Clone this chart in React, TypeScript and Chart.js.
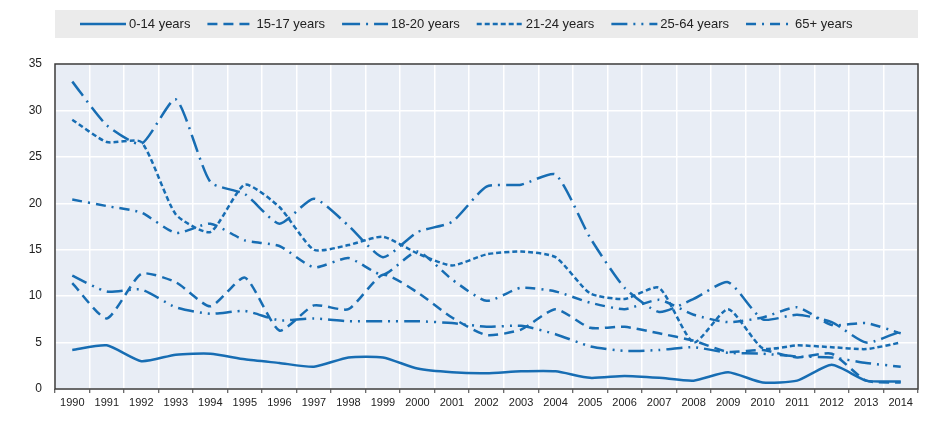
import React, { useEffect, useRef } from "react";
import { Chart, registerables } from "chart.js";

Chart.register(...registerables);

const years = [
  "1990", "1991", "1992", "1993", "1994", "1995", "1996", "1997", "1998", "1999",
  "2000", "2001", "2002", "2003", "2004", "2005", "2006", "2007", "2008", "2009",
  "2010", "2011", "2012", "2013", "2014",
];

const seriesLabels = ["0-14 years", "15-17 years", "18-20 years", "21-24 years", "25-64 years", "65+ years"];

const age0to14 = [4.2, 4.7, 3.0, 3.7, 3.8, 3.2, 2.8, 2.4, 3.4, 3.4, 2.2, 1.8, 1.7, 1.9, 1.9, 1.2, 1.4, 1.2, 0.9, 1.8, 0.7, 0.9, 2.6, 0.9, 0.8];
const age15to17 = [11.4, 7.6, 12.4, 11.5, 8.9, 12.0, 6.3, 9.0, 8.6, 12.3, 10.4, 7.7, 5.8, 6.4, 8.6, 6.6, 6.7, 6.0, 5.2, 4.0, 4.2, 3.4, 3.8, 0.9, 0.7];
const age18to20 = [33.1, 28.4, 26.4, 31.2, 22.3, 21.0, 17.8, 20.5, 17.6, 14.2, 16.9, 18.0, 21.8, 22.0, 23.1, 16.3, 10.9, 8.3, 9.7, 11.5, 7.5, 8.0, 7.2, 5.0, 6.2];
const age21to24 = [29.0, 26.6, 26.6, 18.8, 16.9, 22.0, 19.6, 15.0, 15.5, 16.4, 14.6, 13.3, 14.5, 14.8, 14.2, 10.3, 9.7, 10.9, 5.0, 8.6, 4.4, 4.7, 4.5, 4.3, 5.0];
const age25to64 = [12.2, 10.5, 10.7, 8.8, 8.1, 8.4, 7.4, 7.6, 7.3, 7.3, 7.3, 7.1, 6.7, 6.8, 5.9, 4.6, 4.1, 4.2, 4.5, 3.9, 3.8, 3.5, 3.4, 2.8, 2.4];
const age65plus = [20.4, 19.7, 19.0, 16.8, 17.8, 16.0, 15.4, 13.1, 14.1, 12.3, 14.8, 11.8, 9.5, 10.9, 10.5, 9.3, 8.6, 9.6, 8.0, 7.2, 7.7, 8.8, 6.9, 7.1, 6.0];

const yTicks = [0, 5, 10, 15, 20, 25, 30, 35];

const seriesValues = [age0to14, age15to17, age18to20, age21to24, age25to64, age65plus];
const dashStyles: number[][] = [
  [],
  [10, 6],
  [18, 6, 2, 6],
  [5, 3],
  [16, 6, 2, 6, 2, 6],
  [10, 6, 2, 6],
];

const LINE_COLOR = "#176db3";
const FONT = '"Liberation Sans", Arial, sans-serif';

const decorPlugin = {
  id: "decor",
  beforeDraw(chart: any) {
    const { ctx, chartArea } = chart;
    const { left, top, right, bottom } = chartArea;
    ctx.save();
    ctx.fillStyle = "#e8edf5";
    ctx.fillRect(left, top, right - left, bottom - top);
    ctx.fillStyle = "#ebebeb";
    ctx.fillRect(left, 10, right - left, 28);
    ctx.restore();
  },
  afterDraw(chart: any) {
    const { ctx, chartArea } = chart;
    const { left, top, right, bottom } = chartArea;
    ctx.save();
    // frame
    ctx.strokeStyle = "#3a3a3a";
    ctx.lineWidth = 1.5;
    ctx.setLineDash([]);
    ctx.beginPath();
    ctx.moveTo(left, top);
    ctx.lineTo(right, top);
    ctx.lineTo(right, bottom);
    ctx.lineTo(left, bottom);
    ctx.closePath();
    ctx.stroke();
    // legend
    ctx.font = `13px ${FONT}`;
    ctx.textBaseline = "middle";
    let x = 80;
    const y = 24;
    chart.data.datasets.forEach((ds: any) => {
      ctx.strokeStyle = ds.borderColor;
      ctx.lineWidth = 2.5;
      ctx.setLineDash(ds.borderDash || []);
      ctx.beginPath();
      ctx.moveTo(x, y);
      ctx.lineTo(x + 46, y);
      ctx.stroke();
      ctx.setLineDash([]);
      ctx.fillStyle = "#222";
      ctx.fillText(ds.label, x + 49, y + 0.5);
      x += 49 + ctx.measureText(ds.label).width + 17;
    });
    ctx.restore();
  },
};

export default function App() {
  const canvasRef = useRef<HTMLCanvasElement | null>(null);

  useEffect(() => {
    document.body.style.margin = "0";
    document.body.style.overflow = "hidden";
    const canvas = canvasRef.current;
    if (!canvas) return;
    const chart = new Chart(canvas, {
      type: "line",
      data: {
        labels: years,
        datasets: seriesLabels.map((label, i) => ({
          label,
          data: seriesValues[i],
          borderColor: LINE_COLOR,
          backgroundColor: LINE_COLOR,
          borderWidth: 2.5,
          borderDash: dashStyles[i],
          pointRadius: 0,
          pointHoverRadius: 0,
          tension: 0.2,
          fill: false,
        })),
      },
      options: {
        animation: false,
        responsive: true,
        maintainAspectRatio: false,
        events: [],
        layout: { padding: { top: 64, right: 28, bottom: 0, left: 0 } },
        plugins: {
          legend: { display: false },
          tooltip: { enabled: false },
          title: { display: false },
        },
        scales: {
          x: {
            type: "category",
            offset: true,
            afterFit: (s: any) => {
              s.height = 43;
            },
            grid: {
              offset: true,
              color: "#ffffff",
              lineWidth: 1.5,
              drawTicks: true,
              tickLength: 4,
              tickColor: "#3a3a3a",
              tickWidth: 1,
            },
            border: { display: false },
            ticks: {
              color: "#222",
              font: { family: FONT, size: 11 },
              padding: 3,
              maxRotation: 0,
              autoSkip: false,
            },
          },
          y: {
            min: 0,
            max: 35,
            afterFit: (s: any) => {
              s.width = 55;
            },
            afterBuildTicks: (s: any) => {
              s.ticks = yTicks.map((v) => ({ value: v }));
            },
            grid: {
              color: "#ffffff",
              lineWidth: 1.5,
              drawTicks: false,
            },
            border: { display: false },
            ticks: {
              color: "#222",
              font: { family: FONT, size: 12 },
              padding: 13,
            },
          },
        },
      },
      plugins: [decorPlugin],
    });
    return () => chart.destroy();
  }, []);

  return (
    <div style={{ width: "946px", height: "432px", position: "relative" }}>
      <canvas ref={canvasRef} />
    </div>
  );
}
